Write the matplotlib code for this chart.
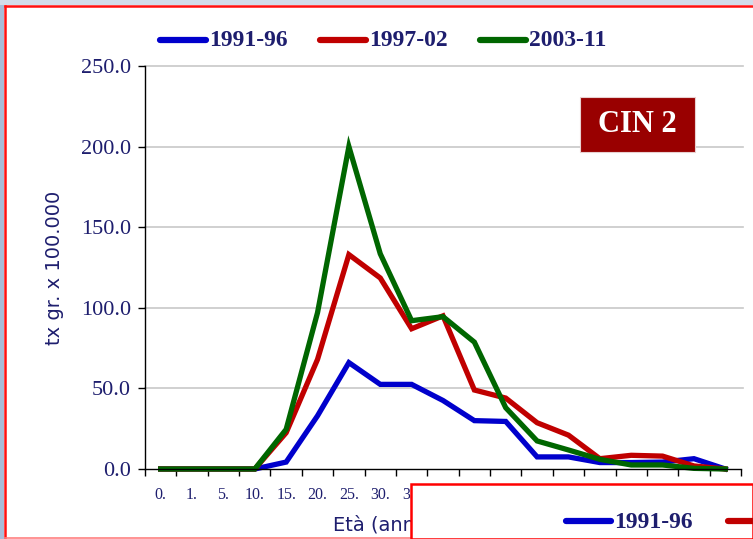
from matplotlib import pyplot as plt
from matplotlib.patches import Rectangle
from matplotlib.lines import Line2D
import numpy as np

plt.rcParams['font.family'] = ['Liberation Serif', 'DejaVu Serif']

W, H = 753, 539  # figure size in pixels

# age classes (labels are cut off like in the original slide)
ages = ["0.", "1.", "5.", "10.", "15.", "20.", "25.", "30.", "35.", "40.",
        "45.", "50.", "55.", "60.", "65.", "70.", "75.", "80.", "85."]
periods = ["1991-96", "1997-02", "2003-11"]
rate_9196 = [0, 0, 0, 0, 4.3, 33.0, 66.0, 52.5, 52.5, 42.5, 30.0, 29.5, 7.5, 7.5, 4.0, 4.0, 4.3, 6.4, 0]
rate_9702 = [0, 0, 0, 0, 22.5, 68.0, 133.0, 118.5, 87.0, 95.0, 49.0, 44.0, 28.7, 21.0, 6.4, 8.5, 8.0, 1.9, 0]
rate_0311 = [0, 0, 0, 0, 24.6, 97.0, 200.0, 133.5, 92.0, 94.5, 78.7, 38.0, 17.4, 11.8, 6.0, 2.5, 2.5, 0.4, 0]
y_ticks = [0, 50, 100, 150, 200, 250]

series = [rate_9196, rate_9702, rate_0311]
colors = ['#0000CC', '#C00000', '#006600']
navy = '#1E1E6E'


def fx(x):  # pixel -> figure fraction
    return x / W


def fy(y):
    return 1 - y / H


fig = plt.figure(figsize=(W / 100, H / 100), dpi=100)
fig.patch.set_facecolor('white')

ax = fig.add_axes([fx(145), fy(469), fx(741) - fx(145), fy(66) - fy(469)])
x = np.arange(len(ages))
for vals, c in zip(series, colors):
    ax.plot(x, vals, color=c, lw=3.8, clip_on=False, solid_joinstyle='miter')

ax.set_xlim(-0.5, len(ages) - 0.5)
ax.set_ylim(0, 250)
ax.set_yticks(y_ticks)
ax.set_yticklabels([f"{v:.1f}" for v in y_ticks], fontsize=16, color=navy)
ax.set_xticks(np.arange(len(ages) + 1) - 0.5)
ax.set_xticklabels([])
ax.set_xticks(x, minor=True)
ax.set_xticklabels(ages, minor=True, fontsize=11.5, color=navy)
ax.tick_params(axis='x', which='minor', length=0, pad=13)
ax.tick_params(axis='x', which='major', length=5, width=1, direction='out')
ax.tick_params(axis='y', length=5, width=1, direction='out', pad=5)
for s in ['top', 'right']:
    ax.spines[s].set_visible(False)
for s in ['left', 'bottom']:
    ax.spines[s].set_linewidth(1)
for v in y_ticks[1:]:
    ax.plot([-0.5, 18.55], [v, v], color='#C8C8C8', lw=1.2, zorder=0, clip_on=False)

# legend at the top
leg_x = [160, 320, 480]
for lx, c, lab in zip(leg_x, colors, periods):
    fig.add_artist(Line2D([fx(lx), fx(lx + 46)], [fy(40), fy(40)], color=c, lw=4.5,
                          solid_capstyle='round'))
    fig.text(fx(lx + 49), fy(41), lab, ha='left', va='center', fontsize=17,
             fontweight='bold', color=navy)

# CIN 2 label
fig.add_artist(Rectangle((fx(580), fy(152)), fx(695) - fx(580), fy(97) - fy(152),
                         facecolor='#990000', edgecolor='#E8D0D0', lw=0.8, zorder=4))
fig.text(fx(637), fy(125), "CIN 2", ha='center', va='center', fontsize=22,
         fontweight='bold', color='white', zorder=5)

# axis titles
fig.text(fx(54), fy(268), "tx gr. x 100.000", rotation=90, ha='center', va='center',
         fontsize=14, family='DejaVu Sans', color=navy)
fig.text(fx(333), fy(525), "Età (anni)", ha='left', va='center',
         fontsize=14, family='DejaVu Sans', color=navy)

# slide frame
fig.add_artist(Rectangle((0, 0), fx(4), 1, facecolor='#A9BCD8', edgecolor='none', zorder=2))
fig.add_artist(Rectangle((0, fy(5)), 1, 1 - fy(5), facecolor='#D3DCEA', edgecolor='none', zorder=2))
fig.add_artist(Line2D([fx(5), fx(5)], [0, fy(6)], color='#FF1010', lw=1.8, zorder=3))
fig.add_artist(Line2D([fx(5), 1], [fy(6), fy(6)], color='#FF1010', lw=1.8, zorder=3))
fig.add_artist(Line2D([fx(5), fx(411)], [fy(538), fy(538)], color='#FF8080', lw=1.2, zorder=3))

# overlapping box of the next slide element
fig.add_artist(Rectangle((fx(411), 0), 1 - fx(411), fy(484), facecolor='white',
                         edgecolor='#FF0000', lw=1.8, zorder=6))
fig.add_artist(Line2D([fx(566), fx(611)], [fy(521), fy(521)], color=colors[0], lw=4.5,
                      solid_capstyle='round', zorder=7))
fig.text(fx(614), fy(522), periods[0], ha='left', va='center', fontsize=17,
         fontweight='bold', color=navy, zorder=7)
fig.add_artist(Line2D([fx(728), fx(770)], [fy(521), fy(521)], color=colors[1], lw=4.5,
                      solid_capstyle='round', zorder=7))

fig.savefig('out.png', dpi=100)
